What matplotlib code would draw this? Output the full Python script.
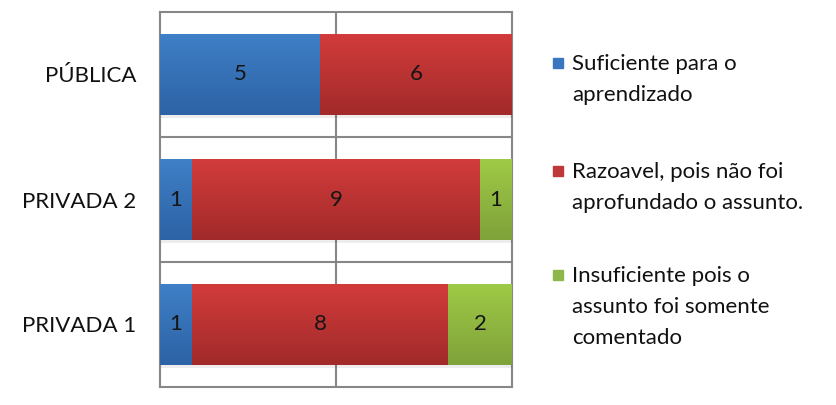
import matplotlib
matplotlib.use("Agg")
import matplotlib.pyplot as plt
from matplotlib.patches import Rectangle
import numpy as np

plt.rcParams['font.family'] = ['Lato', 'DejaVu Sans']

# data (bottom to top)
categorias = ["PRIVADA 1", "PRIVADA 2", "PÚBLICA"]
suficiente = [1, 1, 5]
razoavel = [8, 9, 6]
insuficiente = [2, 1, 0]

series = [suficiente, razoavel, insuficiente]
rotulos = ["Suficiente para o\naprendizado",
           "Razoavel, pois não foi\naprofundado o assunto.",
           "Insuficiente pois o\nassunto foi somente\ncomentado"]
# gradient top/bottom colours per series
cores = [("#3f80c6", "#2d62a6"), ("#d23c3b", "#a22a2a"), ("#9fca46", "#7fa23a")]
cor_legenda = ["#3a76bf", "#c0393a", "#8fb64a"]

fig = plt.figure(figsize=(8.36, 4.05), dpi=100)
ax = fig.add_axes([160/836, 18/405, 352/836, 375/405])

y = np.arange(len(categorias))
altura = 0.65
esquerda = np.zeros(len(categorias))
for vals, (c_top, c_bot) in zip(series, cores):
    vals = np.array(vals, dtype=float)
    barras = ax.barh(y, vals, left=esquerda, height=altura, color=c_bot,
                     edgecolor='none', zorder=3)
    cmap = matplotlib.colors.LinearSegmentedColormap.from_list("g", [c_bot, c_top])
    for b in barras:
        if b.get_width() <= 0:
            continue
        x0, y0 = b.get_x(), b.get_y()
        w, h = b.get_width(), b.get_height()
        # soft shadow
        ax.add_patch(Rectangle((x0 + 0.03, y0 - 0.025), w, h, color="#000000",
                               alpha=0.07, zorder=2, lw=0))
        grad = np.linspace(0, 1, 100).reshape(-1, 1)
        im = ax.imshow(grad, cmap=cmap, aspect='auto', origin='lower',
                       extent=(x0, x0 + w, y0, y0 + h), zorder=4)
        im.set_clip_path(b)
    for yi, (l, v) in enumerate(zip(esquerda, vals)):
        if v > 0:
            ax.text(l + v / 2, yi, str(int(v)), ha='center', va='center',
                    fontsize=16, color='#151515', zorder=5)
    esquerda += vals

total = esquerda.max()
ax.set_xlim(0, total)
ax.set_ylim(-0.5, len(categorias) - 0.5)
ax.set_yticks(y)
ax.set_yticklabels(categorias, fontsize=16, color='#111111')
ax.set_xticks([total / 2])
ax.set_xticklabels([])
ax.set_yticks([0.5, 1.5], minor=True)
ax.tick_params(axis='both', which='both', length=0, pad=17)
ax.grid(axis='x', which='major', color='#878787', lw=1.5, zorder=1)
ax.grid(axis='y', which='minor', color='#878787', lw=1.5, zorder=1)
for s in ax.spines.values():
    s.set_color('#878787')
    s.set_linewidth(1.5)
    s.set_zorder(1)

# legend: marker aligned to the first line of each label
legenda_y = [63, 171, 275]
for ly, txt, cor in zip(legenda_y, rotulos, cor_legenda):
    fig.patches.append(Rectangle((553/836, 1 - (ly + 5)/405), 10/836, 10/405,
                                 transform=fig.transFigure, color=cor))
    fig.text(572/836, 1 - (ly - 9)/405, txt, ha='left', va='top',
             fontsize=16, linespacing=1.7, color='#111111')

fig.savefig("out.png", dpi=100)
